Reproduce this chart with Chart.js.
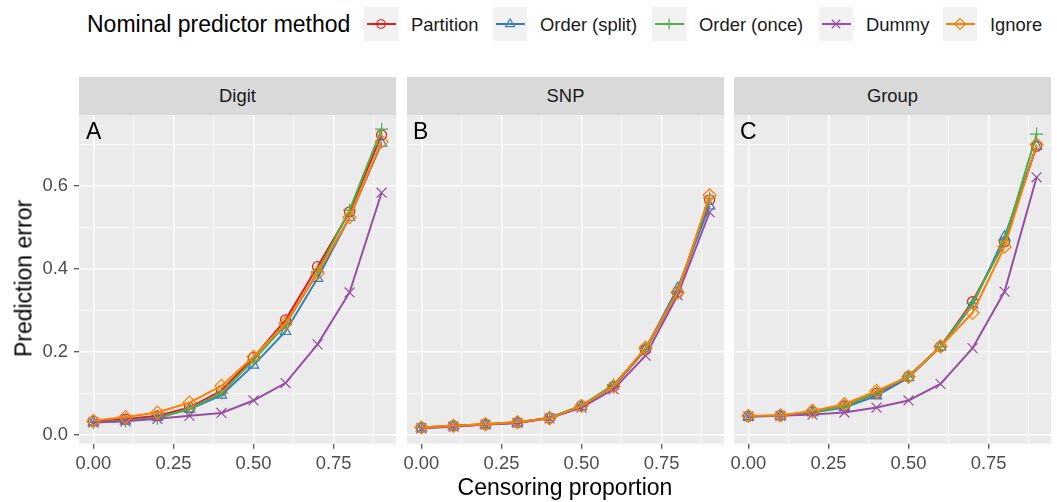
<!DOCTYPE html>
<html>
<head>
<meta charset="utf-8">
<script src="https://cdn.jsdelivr.net/npm/chart.js@4.4.0/dist/chart.umd.min.js"></script>
<style>
  body { margin: 0; background: #fff; }
  #wrap { position: relative; width: 1057px; height: 502px; overflow: hidden;
          font-family: "Liberation Sans", Arial, Helvetica, sans-serif; }
  #wrap canvas { position: absolute; }
  .strip { position: absolute; top: 77px; height: 38px; width: 317px; background: #D9D9D9;
           color: #1A1A1A; font-size: 18.4px; line-height: 38px; text-align: center; }
  .tag { position: absolute; top: 119.5px; font-size: 23px; line-height: 23px; color: #000; }
  .ltitle { position: absolute; left: 87px; top: 12.8px; font-size: 23px; line-height: 23px; color: #000; white-space: nowrap; }
  .ltext { position: absolute; top: 15.3px; font-size: 18.4px; line-height: 20px; color: #1A1A1A; white-space: nowrap; }
  .xtitle { position: absolute; left: 79px; width: 972px; top: 475.5px; font-size: 23px; line-height: 23px;
            text-align: center; color: #000; }
  .ytitle { position: absolute; left: -126.5px; top: 266.5px; width: 300px; height: 23px; font-size: 23px;
            line-height: 23px; text-align: center; color: #000; transform: rotate(-90deg); }
</style>
</head>
<body>
<div id="wrap">
  <div class="ltitle">Nominal predictor method</div>
  <div id="legend"></div>

  <div class="strip" style="left:79px">Digit</div>
  <div class="strip" style="left:407px">SNP</div>
  <div class="strip" style="left:734px">Group</div>

  <canvas id="cA" width="400" height="360" style="left:0px;top:115px"></canvas>
  <canvas id="cB" width="331" height="360" style="left:397px;top:115px"></canvas>
  <canvas id="cC" width="331" height="360" style="left:724px;top:115px"></canvas>

  <div class="tag" style="left:86px">A</div>
  <div class="tag" style="left:413px">B</div>
  <div class="tag" style="left:740px">C</div>

  <div class="xtitle">Censoring proportion</div>
  <div class="ytitle">Prediction error</div>
</div>

<script>
// censoring proportions (x)
var censoring = [0, 0.1, 0.2, 0.3, 0.4, 0.5, 0.6, 0.7, 0.8, 0.9];

// Digit
var digitPartition  = [0.033, 0.038, 0.046, 0.066, 0.107, 0.186, 0.277, 0.405, 0.537, 0.722];
var digitOrderSplit = [0.030, 0.034, 0.042, 0.062, 0.096, 0.168, 0.249, 0.377, 0.524, 0.702];
var digitOrderOnce  = [0.030, 0.034, 0.040, 0.063, 0.101, 0.180, 0.265, 0.393, 0.541, 0.736];
var digitDummy      = [0.030, 0.033, 0.039, 0.046, 0.053, 0.083, 0.125, 0.218, 0.343, 0.583];
var digitIgnore     = [0.034, 0.043, 0.054, 0.078, 0.118, 0.188, 0.269, 0.389, 0.524, 0.706];

// SNP
var snpPartition  = [0.018, 0.022, 0.026, 0.030, 0.041, 0.070, 0.117, 0.205, 0.343, 0.566];
var snpOrderSplit = [0.017, 0.021, 0.025, 0.029, 0.042, 0.068, 0.118, 0.207, 0.353, 0.551];
var snpOrderOnce  = [0.018, 0.022, 0.026, 0.031, 0.041, 0.071, 0.121, 0.206, 0.345, 0.570];
var snpDummy      = [0.016, 0.020, 0.025, 0.029, 0.040, 0.066, 0.110, 0.191, 0.336, 0.536];
var snpIgnore     = [0.018, 0.022, 0.026, 0.031, 0.040, 0.070, 0.117, 0.210, 0.343, 0.577];

// Group
var groupPartition  = [0.045, 0.047, 0.056, 0.070, 0.100, 0.141, 0.213, 0.321, 0.465, 0.695];
var groupOrderSplit = [0.044, 0.046, 0.054, 0.066, 0.094, 0.138, 0.212, 0.313, 0.477, 0.695];
var groupOrderOnce  = [0.045, 0.047, 0.055, 0.069, 0.102, 0.142, 0.212, 0.317, 0.467, 0.724];
var groupDummy      = [0.045, 0.046, 0.049, 0.054, 0.066, 0.083, 0.123, 0.209, 0.345, 0.620];
var groupIgnore     = [0.046, 0.047, 0.058, 0.074, 0.106, 0.140, 0.213, 0.294, 0.453, 0.699];

var methods = ["Partition", "Order (split)", "Order (once)", "Dummy", "Ignore"];
var colors  = ["#E41A1C", "#377EB8", "#4DAF4A", "#984EA3", "#FF7F00"];
var shapes  = ["circle", "triangle", "cross", "crossRot", "rectRot"];
var radii   = [5, 6, 6.5, 7, 6.5];

// axis ticks
var xTickValues = [0, 0.125, 0.25, 0.375, 0.5, 0.625, 0.75, 0.875];
var xMajor      = [0, 0.25, 0.5, 0.75];
var xTickLabels = ["0.00", "0.25", "0.50", "0.75"];
var yTickValues = [0, 0.1, 0.2, 0.3, 0.4, 0.5, 0.6, 0.7];
var yMajor      = [0, 0.2, 0.4, 0.6];
var yTickLabels = ["0.0", "0.2", "0.4", "0.6"];

var FONT = '"Liberation Sans", Arial, Helvetica, sans-serif';

var panelBg = {
  id: 'panelBg',
  beforeDraw: function(chart) {
    var a = chart.chartArea, ctx = chart.ctx;
    ctx.save();
    ctx.fillStyle = '#EBEBEB';
    ctx.fillRect(a.left, a.top, a.right - a.left, a.bottom - a.top);
    ctx.restore();
  }
};

function gridFor(major) {
  return {
    drawOnChartArea: true,
    color: '#FFFFFF',
    lineWidth: function(c) { return c.tick && major.indexOf(c.tick.value) >= 0 ? 1.5 : 0.75; },
    tickColor: function(c) { return c.tick && major.indexOf(c.tick.value) >= 0 ? '#333333' : 'rgba(0,0,0,0)'; },
    tickWidth: 1.1,
    tickLength: 5
  };
}

function makePanel(id, series, showY) {
  var yW = showY ? 79 : 10;
  var datasets = series.map(function(vals, i) {
    return {
      label: methods[i],
      data: censoring.map(function(x, j) { return { x: x, y: vals[j] }; }),
      borderColor: colors[i],
      backgroundColor: 'rgba(0,0,0,0)',
      pointBackgroundColor: 'rgba(0,0,0,0)',
      pointBorderColor: colors[i],
      pointStyle: shapes[i],
      pointRadius: radii[i],
      pointBorderWidth: 1.2,
      borderWidth: 2,
      tension: 0,
      order: methods.length - 1 - i
    };
  });

  var yGrid = gridFor(yMajor);
  if (!showY) yGrid.drawTicks = false;

  return new Chart(document.getElementById(id), {
    type: 'line',
    data: { datasets: datasets },
    plugins: [panelBg],
    options: {
      responsive: false,
      animation: false,
      devicePixelRatio: 1,
      layout: { autoPadding: false, padding: { left: 0, right: 4, top: 0, bottom: 0 } },
      plugins: { legend: { display: false }, tooltip: { enabled: false } },
      scales: {
        x: {
          type: 'linear',
          min: -0.045,
          max: 0.945,
          border: { display: false },
          grid: gridFor(xMajor),
          afterBuildTicks: function(s) { s.ticks = xTickValues.map(function(v) { return { value: v }; }); },
          afterFit: function(s) { s.height = 31.3; s.paddingLeft = 0; s.paddingRight = 0; },
          ticks: {
            autoSkip: false,
            maxRotation: 0,
            padding: 4,
            color: '#4D4D4D',
            font: { family: FONT, size: 18.4 },
            callback: function(v) { var k = xMajor.indexOf(v); return k < 0 ? '' : xTickLabels[k]; }
          }
        },
        y: {
          type: 'linear',
          min: -0.021,
          max: 0.77,
          border: { display: false },
          grid: yGrid,
          afterBuildTicks: function(s) { s.ticks = yTickValues.map(function(v) { return { value: v }; }); },
          afterFit: function(s) { s.width = yW; s.paddingTop = 0; s.paddingBottom = 0; },
          ticks: {
            display: showY,
            autoSkip: false,
            padding: 6,
            color: '#4D4D4D',
            font: { family: FONT, size: 18.4 },
            callback: function(v) { var k = yMajor.indexOf(v); return k < 0 ? '' : yTickLabels[k]; }
          }
        }
      }
    }
  });
}

makePanel('cA', [digitPartition, digitOrderSplit, digitOrderOnce, digitDummy, digitIgnore], true);
makePanel('cB', [snpPartition, snpOrderSplit, snpOrderOnce, snpDummy, snpIgnore], false);
makePanel('cC', [groupPartition, groupOrderSplit, groupOrderOnce, groupDummy, groupIgnore], false);

// legend keys
var keyLeft  = [364, 493, 652, 819, 943];
var textLeft = [411, 540, 699, 866, 990];
var legend = document.getElementById('legend');
methods.forEach(function(m, i) {
  var c = document.createElement('canvas');
  c.width = 34; c.height = 34;
  c.style.left = keyLeft[i] + 'px';
  c.style.top = '7px';
  legend.appendChild(c);
  var ctx = c.getContext('2d');
  ctx.fillStyle = '#F2F2F2';
  ctx.fillRect(0, 0, 34, 34);
  ctx.strokeStyle = colors[i];
  ctx.lineWidth = 2;
  ctx.beginPath(); ctx.moveTo(3, 17); ctx.lineTo(32, 17); ctx.stroke();
  ctx.fillStyle = 'rgba(0,0,0,0)';
  ctx.lineWidth = 1.2;
  Chart.helpers.drawPoint(ctx, { pointStyle: shapes[i], radius: radii[i] * 0.85, borderWidth: 1.2, rotation: 0 }, 17, 17);

  var t = document.createElement('div');
  t.className = 'ltext';
  t.style.left = textLeft[i] + 'px';
  t.textContent = m;
  legend.appendChild(t);
});
</script>
</body>
</html>
